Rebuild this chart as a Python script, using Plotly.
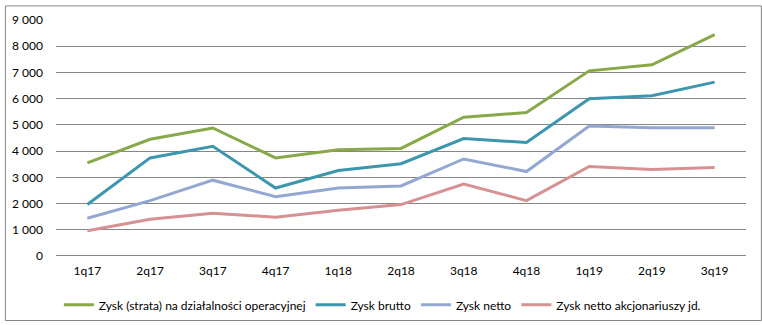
import plotly.graph_objects as go

categories = ["1q17", "2q17", "3q17", "4q17", "1q18", "2q18", "3q18", "4q18", "1q19", "2q19", "3q19"]
zysk_operacyjny = [3550, 4450, 4880, 3740, 4050, 4100, 5290, 5470, 7060, 7290, 8440]
zysk_brutto = [1960, 3740, 4180, 2590, 3260, 3520, 4480, 4330, 6000, 6110, 6630]
zysk_netto = [1440, 2110, 2890, 2260, 2590, 2670, 3700, 3220, 4960, 4890, 4890]
zysk_netto_akcj = [960, 1400, 1630, 1480, 1740, 1960, 2740, 2110, 3410, 3300, 3370]

series = [
    ("Zysk (strata) na działalności operacyjnej", zysk_operacyjny, "#89A84A"),
    ("Zysk brutto", zysk_brutto, "#3D96AD"),
    ("Zysk netto", zysk_netto, "#92A8D1"),
    ("Zysk netto akcjonariuszy jd.", zysk_netto_akcj, "#D69292"),
]

fig = go.Figure()
for name, vals, col in series:
    fig.add_trace(go.Scatter(x=categories, y=vals, name=name, mode="lines",
                             line=dict(color=col, width=3)))

fig.update_layout(
    width=762, height=325,
    margin=dict(l=51, r=16, t=15, b=67),
    paper_bgcolor="white", plot_bgcolor="white",
    separators=", ",
    font=dict(family="Lato, DejaVu Sans, sans-serif", size=12, color="#000000"),
    showlegend=True,
    legend=dict(orientation="h", x=0.473, xanchor="center", yref="container", y=0.062,
                yanchor="middle", font=dict(size=12), itemwidth=30, tracegroupgap=0),
    xaxis=dict(type="category", range=[-0.5, 10.5], showgrid=False, zeroline=False,
               showline=False, ticks="outside", ticklen=4, tickcolor="rgba(0,0,0,0)",
               tickfont=dict(size=12)),
    yaxis=dict(range=[0, 9000], dtick=1000, tickformat=",d", showgrid=True,
               gridcolor="#868686", gridwidth=1, zeroline=True, zerolinecolor="#868686",
               zerolinewidth=1, showline=False, ticklabelstandoff=12, tickfont=dict(size=12)),
    shapes=[dict(type="rect", xref="paper", yref="paper", x0=-51/695, x1=1+15.5/695,
                 y0=-66.5/243, y1=1+14.5/243, line=dict(color="#868686", width=1))],
)

fig.write_html("out.html")
